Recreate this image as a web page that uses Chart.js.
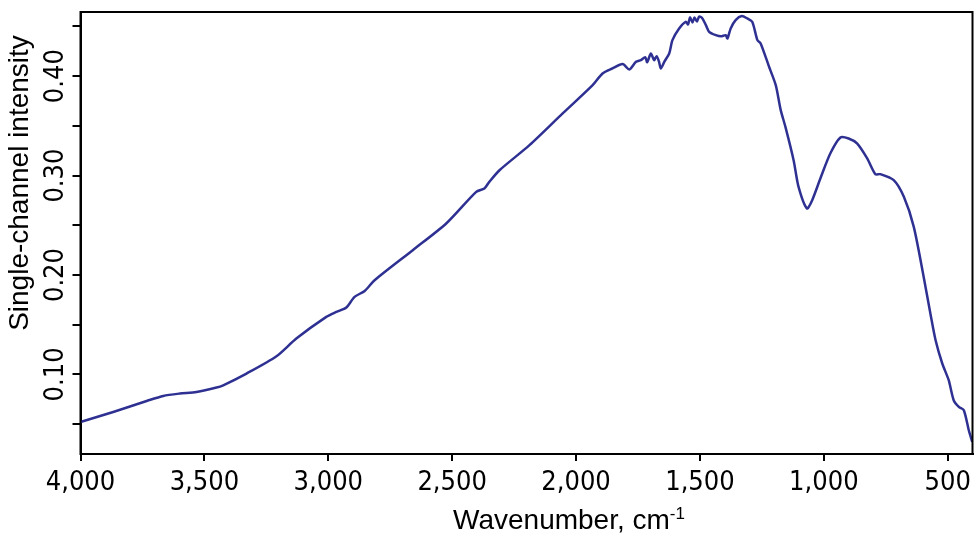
<!DOCTYPE html>
<html>
<head>
<meta charset="utf-8">
<script src="https://cdn.jsdelivr.net/npm/chart.js@4.4.1/dist/chart.umd.min.js"></script>
<style>
	html, body { margin: 0; padding: 0; background: #ffffff; }
	#box { width: 975px; height: 535px; }
</style>
</head>
<body>
<div id="box"><canvas id="spectrum"></canvas></div>
<script>
const wavenumbers = [4000, 3868, 3733, 3666, 3599, 3532, 3451, 3424, 3330, 3209, 3129, 3008, 2967, 2927, 2894, 2853, 2813, 2659, 2524, 2403, 2370, 2350, 2309, 2188, 2054, 1933, 1893, 1853, 1812, 1785, 1758, 1738, 1721, 1713, 1698, 1685, 1675, 1665, 1658, 1644, 1624, 1611, 1584, 1557, 1548, 1540, 1530, 1522, 1512, 1503, 1490, 1476, 1463, 1436, 1415, 1396, 1389, 1376, 1356, 1331, 1309, 1289, 1268, 1255, 1221, 1194, 1174, 1155, 1122, 1102, 1068, 1047, 1014, 974, 933, 900, 866, 825, 792, 772, 718, 677, 637, 597, 570, 549, 522, 496, 476, 455, 435, 415, 401];
const intensities = [0.0522, 0.0623, 0.0733, 0.0784, 0.0808, 0.0824, 0.0868, 0.0891, 0.1009, 0.1183, 0.1361, 0.1579, 0.1629, 0.1673, 0.1780, 0.1840, 0.1948, 0.2250, 0.2518, 0.2836, 0.2870, 0.2937, 0.3054, 0.3306, 0.3625, 0.3909, 0.4027, 0.4077, 0.4121, 0.4067, 0.4144, 0.4161, 0.4191, 0.4141, 0.4228, 0.4161, 0.4201, 0.4144, 0.4077, 0.4144, 0.4228, 0.4362, 0.4480, 0.4546, 0.4520, 0.4590, 0.4540, 0.4590, 0.4550, 0.4600, 0.4580, 0.4513, 0.4446, 0.4412, 0.4400, 0.4412, 0.4379, 0.4480, 0.4563, 0.4604, 0.4580, 0.4546, 0.4362, 0.4329, 0.4094, 0.3909, 0.3658, 0.3490, 0.3155, 0.2886, 0.2669, 0.2753, 0.2971, 0.3222, 0.3383, 0.3373, 0.3323, 0.3172, 0.3014, 0.3014, 0.2954, 0.2786, 0.2484, 0.1981, 0.1613, 0.1344, 0.1110, 0.0942, 0.0741, 0.0673, 0.0640, 0.0439, 0.0321];

const xTicks = [4000, 3500, 3000, 2500, 2000, 1500, 1000, 500];
const yTicks = [0.05, 0.10, 0.15, 0.20, 0.25, 0.30, 0.35, 0.40, 0.45];
const yLabels = [0.10, 0.20, 0.30, 0.40];

const TICK_FONT = "'Liberation Sans Narrow', 'DejaVu Sans Condensed', 'Liberation Sans', sans-serif";
const TITLE_FONT = "'Liberation Sans', Arial, sans-serif";

document.addEventListener('DOMContentLoaded', function()
{
	drawSpectrum();
});

// cadre + labels verticaux + titres des axes (pas faisable direct avec les options)
const extras = {
	id: 'extras',
	afterDraw(chart)
	{
		const ctx = chart.ctx;
		const area = chart.chartArea;
		const yScale = chart.scales.y;

		ctx.save();
		ctx.strokeStyle = '#000000';
		ctx.lineWidth = 2;
		ctx.strokeRect(area.left, area.top, area.right - area.left, area.bottom - area.top);

		ctx.fillStyle = '#000000';
		ctx.font = '27px ' + TICK_FONT;
		ctx.textAlign = 'center';
		ctx.textBaseline = 'alphabetic';
		yLabels.forEach(v =>
		{
			ctx.save();
			ctx.translate(63, yScale.getPixelForValue(v));
			ctx.rotate(-Math.PI / 2);
			ctx.fillText(v.toFixed(2), 0, 0);
			ctx.restore();
		});

		// titre Y
		ctx.font = '28px ' + TITLE_FONT;
		ctx.save();
		ctx.translate(28, 183);
		ctx.rotate(-Math.PI / 2);
		ctx.fillText('Single-channel intensity', 0, 0);
		ctx.restore();

		// titre X avec l'exposant -1
		const main = 'Wavenumber, cm';
		const wMain = ctx.measureText(main).width;
		ctx.font = '17px ' + TITLE_FONT;
		const wSup = ctx.measureText('-1').width;
		const x0 = 569 - (wMain + wSup) / 2;
		ctx.textAlign = 'left';
		ctx.fillText('-1', x0 + wMain, 519);
		ctx.font = '28px ' + TITLE_FONT;
		ctx.fillText(main, x0, 529);
		ctx.restore();
	}
};

function drawSpectrum()
{
	const points = wavenumbers.map((w, i) => ({ x: w, y: intensities[i] }));

	const config = {
		type: 'line',
		data: {
			datasets: [{
				data: points,
				borderColor: '#2e3192',
				borderWidth: 2.5,
				pointRadius: 0,
				tension: 0.25,
				fill: false
			}]
		},
		options: {
			responsive: true,
			maintainAspectRatio: false,
			animation: false,
			layout: { padding: { top: 12, right: 2.5, left: 0, bottom: 0 } },
			plugins: {
				legend: { display: false },
				tooltip: { enabled: false }
			},
			scales: {
				x: {
					type: 'linear',
					reverse: true,
					min: 400,
					max: 4000,
					afterBuildTicks: scale => { scale.ticks = xTicks.map(v => ({ value: v })); },
					afterFit: scale => { scale.height = 81; scale.paddingLeft = 0; scale.paddingRight = 0; },
					grid: { drawOnChartArea: false, drawTicks: true, tickLength: 7, color: '#000000', lineWidth: 2 },
					border: { display: true, color: '#000000', width: 2 },
					ticks: {
						color: '#000000',
						font: { family: TICK_FONT, size: 27 },
						padding: 6,
						maxRotation: 0,
						autoSkip: false,
						callback: v => v.toLocaleString('en-US')
					}
				},
				y: {
					min: 0.02,
					max: 0.4645,
					afterBuildTicks: scale => { scale.ticks = yTicks.map(v => ({ value: v })); },
					afterFit: scale => { scale.width = 80.5; },
					grid: { drawOnChartArea: false, drawTicks: true, tickLength: 8, color: '#000000', lineWidth: 2 },
					border: { display: true, color: '#000000', width: 2 },
					ticks: { display: false }
				}
			}
		},
		plugins: [extras]
	};

	const ctx = document.getElementById('spectrum').getContext('2d');
	new Chart(ctx, config);
}
</script>
</body>
</html>
